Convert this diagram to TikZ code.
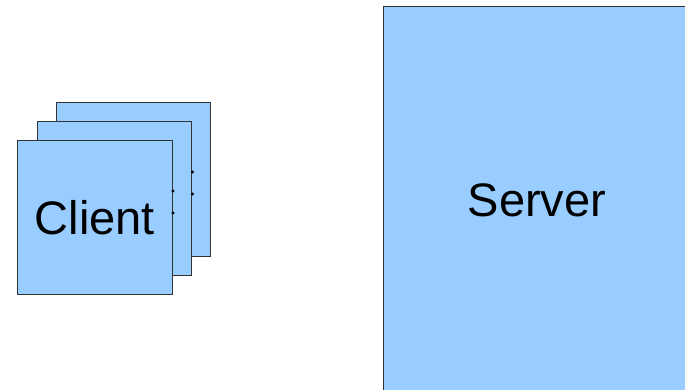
\documentclass[tikz,border=0pt]{standalone}
\usepackage{fontspec}
\setmainfont{Liberation Sans}
\begin{document}
\begin{tikzpicture}[x=1pt,y=-1pt,
  boxstyle/.style={draw=black!80, line width=0.9pt, fill={rgb,255:red,153;green,204;blue,255}},
  labelstyle/.style={font=\fontsize{47}{50}\selectfont, text=black},
  dotstyle/.style={fill=black, draw=none, circle, inner sep=0pt, minimum size=3.4pt}]
\useasboundingbox (0,0) rectangle (685,390);
\clip (0,0) rectangle (685,390);
\draw[boxstyle] (383,6) rectangle (692,392);
\node[labelstyle] (server) at (537,200) {Server};
\draw[boxstyle] (56,102) rectangle (210,256);
\draw[boxstyle] (37,121) rectangle (191,275);
\draw[boxstyle] (17,140) rectangle (172,294);
\node[dotstyle] (d1) at (192.5,172) {};
\node[dotstyle] (d2) at (192.5,194) {};
\node[dotstyle] (d3) at (173,191) {};
\node[dotstyle] (d4) at (173,213) {};
\node[labelstyle] (client) at (95,218) {Client};
\end{tikzpicture}
\end{document}
